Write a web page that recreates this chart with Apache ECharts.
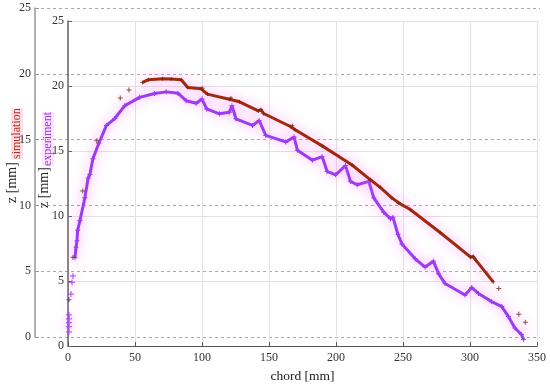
<!DOCTYPE html>
<html><head><meta charset="utf-8">
<script src="https://cdn.jsdelivr.net/npm/echarts@6/dist/echarts.min.js"></script>
<style>html,body{margin:0;padding:0;background:#fff}#c{width:550px;height:388px}</style>
</head><body><div id="c"></div>
<script>
// x ticks
const xTicks = [0, 50, 100, 150, 200, 250, 300, 350];
const yTicks = [0, 5, 10, 15, 20, 25];

// Experiment (inner axis) – sparse start points
const expStartX = [0.7, 0.7, 0.7, 0.7, 0.7, 2.2, 3.0, 3.7];
const expStartY = [1.1, 1.5, 1.8, 2.1, 2.4, 4.0, 4.9, 5.4];
// Experiment dense curve
const expX = [5.2, 6.0, 6.7, 7.2, 8.9, 12.6, 15.0, 16.3, 18.6, 23.0, 28.7, 34.9, 42.4, 53.5, 64.6, 73.3, 82.0, 88.2, 95.7, 100.0, 103.5, 113.0, 120.4, 122.4, 125.3, 137.7, 142.7, 147.6, 162.5, 168.7, 171.2, 182.4, 189.7, 193.4, 199.7, 207.1, 210.8, 215.8, 224.5, 228.2, 235.6, 240.6, 242.5, 246.2, 249.2, 259.1, 266.5, 272.7, 276.5, 281.4, 296.3, 301.3, 306.3, 316.2, 323.7, 328.6, 333.5, 338.4, 340.0];
const expY = [6.8, 7.6, 8.1, 8.9, 9.65, 11.4, 12.9, 13.2, 14.4, 15.6, 16.97, 17.5, 18.49, 19.13, 19.43, 19.55, 19.45, 18.87, 18.67, 19.0, 18.24, 17.86, 17.98, 18.49, 17.48, 16.97, 17.35, 16.2, 15.7, 16.08, 15.07, 14.3, 14.57, 13.43, 13.17, 13.88, 12.67, 12.41, 12.67, 11.4, 10.3, 9.8, 9.9, 8.6, 7.85, 6.71, 6.08, 6.53, 5.57, 4.81, 3.93, 4.5, 4.05, 3.42, 3.04, 2.28, 1.39, 0.89, 0.5];

// Simulation (outer axis) – isolated points
const simPtX = [0.7, 3.7, 11.0, 21.5, 39.0, 45.5, 321.5, 336.4, 341.3];
const simPtY = [2.58, 5.85, 10.94, 14.8, 18.1, 18.7, 3.44, 1.47, 0.84];
// Simulation continuous curve
const simX = [55.5, 60.0, 70.6, 77.0, 84.5, 89.4, 99.4, 100.5, 104.0, 120.4, 121.6, 128.0, 142.0, 144.0, 146.0, 166.0, 167.4, 169.5, 189.7, 212.0, 225.7, 233.0, 241.7, 246.7, 255.4, 277.7, 300.5, 302.4, 304.5, 317.3];
const simY = [19.28, 19.5, 19.58, 19.55, 19.5, 18.9, 18.8, 18.85, 18.39, 18.0, 18.1, 17.8, 17.1, 17.2, 16.9, 15.9, 15.95, 15.65, 14.41, 12.94, 11.8, 11.22, 10.41, 10.03, 9.52, 7.75, 5.85, 5.9, 5.6, 3.95];

const zip = (a, b) => a.map((v, i) => [v, b[i]]);
const plus = 'path://M4,0H6V4H10V6H6V10H4V6H0V4H4Z';
const FONT = 'Liberation Serif';
const simColor = '#a3280a';
const expColor = '#9b3cf2';
const glow = 'rgba(255,110,255,0.75)';

const chart = echarts.init(document.getElementById('c'), null, {renderer: 'canvas'});
chart.setOption({
  animation: false,
  backgroundColor: '#fff',
  grid: [
    {left: 68, right: 13, top: 21, bottom: 38},
    {left: 35, right: 10, top: 8, bottom: 51}
  ],
  xAxis: [
    {gridIndex: 0, type: 'value', min: xTicks[0], max: xTicks[xTicks.length - 1], interval: 50,
     name: 'chord [mm]', nameLocation: 'middle', nameGap: 22,
     nameTextStyle: {fontFamily: FONT, fontSize: 13.5, color: '#222'},
     axisLine: {lineStyle: {color: '#555', width: 1.2}},
     axisTick: {inside: true, length: 4, lineStyle: {color: '#555'}},
     axisLabel: {fontFamily: FONT, fontSize: 12, color: '#333', margin: 6},
     splitLine: {show: true, lineStyle: {color: '#e2e2e2', width: 1}}},
    {gridIndex: 1, type: 'value', min: 0, max: 1, show: false}
  ],
  yAxis: [
    {gridIndex: 0, type: 'value', min: yTicks[0], max: yTicks[yTicks.length - 1], interval: 5,
     axisLine: {show: true, lineStyle: {color: '#666', width: 1.5}},
     axisTick: {show: true, inside: true, length: 4, lineStyle: {color: '#666'}},
     axisLabel: {fontFamily: FONT, fontSize: 12, color: '#333', margin: 4},
     splitLine: {show: true, lineStyle: {color: '#e2e2e2', width: 1}}},
    {gridIndex: 1, type: 'value', min: yTicks[0], max: yTicks[yTicks.length - 1], interval: 5,
     axisLine: {show: true, lineStyle: {color: '#999', width: 1.5}},
     axisTick: {show: true, inside: true, length: 4, lineStyle: {color: '#999'}},
     axisLabel: {fontFamily: FONT, fontSize: 12, color: '#333', margin: 4},
     splitLine: {show: true, lineStyle: {color: '#a8a8a8', width: 1, type: [3, 3]}}},
    {gridIndex: 0, type: 'value', min: -0.988, max: 24.012, show: false}
  ],
  graphic: [
    {type: 'text', x: 5, y: 203, rotation: Math.PI / 2,
     style: {text: 'z [mm]', fontFamily: FONT, fontSize: 14, fill: '#222'}},
    {type: 'text', x: 11, y: 159, rotation: Math.PI / 2,
     style: {text: 'simulation', fontFamily: FONT, fontSize: 12, fill: '#b0301a',
             backgroundColor: 'rgba(255,205,220,0.7)'}},
    {type: 'text', x: 37, y: 208, rotation: Math.PI / 2,
     style: {text: 'z [mm]', fontFamily: FONT, fontSize: 14, fill: '#222'}},
    {type: 'text', x: 42, y: 166, rotation: Math.PI / 2,
     style: {text: 'experiment', fontFamily: FONT, fontSize: 12, fill: '#8a3ae8',
             backgroundColor: 'rgba(255,215,255,0.7)'}}
  ],
  series: [
    {type: 'line', xAxisIndex: 0, yAxisIndex: 0, data: zip(expX, expY),
     lineStyle: {color: expColor, width: 3, shadowColor: glow, shadowBlur: 12},
     symbol: plus, symbolSize: 5, showSymbol: true,
     itemStyle: {color: expColor}, z: 3},
    {type: 'scatter', xAxisIndex: 0, yAxisIndex: 0, data: zip(expStartX, expStartY),
     symbol: plus, symbolSize: 6,
     itemStyle: {color: expColor, shadowColor: glow, shadowBlur: 8}, z: 3},
    {type: 'line', xAxisIndex: 0, yAxisIndex: 2, data: zip(simX, simY),
     lineStyle: {color: simColor, width: 3, shadowColor: glow, shadowBlur: 12},
     symbol: plus, symbolSize: 4, showSymbol: true,
     itemStyle: {color: '#7a2a08'}, z: 4},
    {type: 'scatter', xAxisIndex: 0, yAxisIndex: 2, data: zip(simPtX, simPtY),
     symbol: plus, symbolSize: 5,
     itemStyle: {color: '#6b2a10', shadowColor: glow, shadowBlur: 8}, z: 4}
  ]
});
</script></body></html>
